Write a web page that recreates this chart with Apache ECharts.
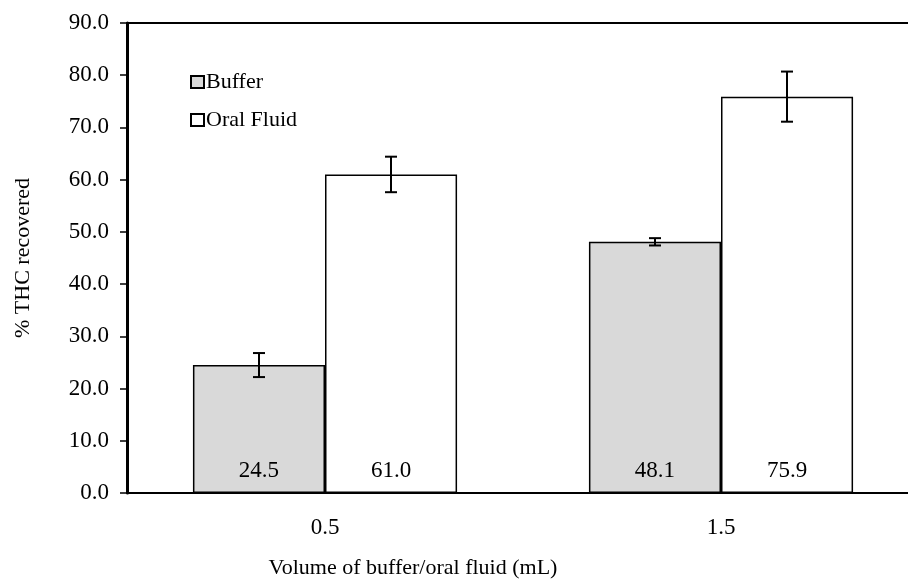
<!DOCTYPE html>
<html>
<head>
<meta charset="utf-8">
<script src="https://cdn.jsdelivr.net/npm/echarts@6/dist/echarts.min.js"></script>
<style>
html, body { margin: 0; padding: 0; background: #fff; }
#chart { width: 908px; height: 580px; }
</style>
</head>
<body>
<div id="chart"></div>
<script>
var categories = ['0.5', '1.5'];
var bufferValues = [24.5, 48.1];
var oralValues = [61.0, 75.9];
var bufferErr = [2.3, 0.7];
var oralErr = [3.4, 4.8];
var font = 'Liberation Serif';

var chart = echarts.init(document.getElementById('chart'));

// error bars, shifted to the left or right bar of each category
function errorSeries(name, values, errs, side) {
    return {
        name: name + ' err',
        type: 'custom',
        silent: true,
        z: 10,
        data: values.map(function (v, i) { return [i, v, errs[i]]; }),
        renderItem: function (params, api) {
            var i = api.value(0), v = api.value(1), e = api.value(2);
            var band = api.size([1, 0])[0];
            var hi = api.coord([i, v + e]);
            var lo = api.coord([i, v - e]);
            var x = hi[0] + side * band / 6;
            var cap = 6;
            var style = { stroke: '#000', lineWidth: 2 };
            return {
                type: 'group',
                children: [
                    { type: 'line', shape: { x1: x, y1: hi[1], x2: x, y2: lo[1] }, style: style },
                    { type: 'line', shape: { x1: x - cap, y1: hi[1], x2: x + cap, y2: hi[1] }, style: style },
                    { type: 'line', shape: { x1: x - cap, y1: lo[1], x2: x + cap, y2: lo[1] }, style: style }
                ]
            };
        }
    };
}

var barLabel = {
    show: true,
    position: 'insideBottom',
    distance: 11,
    color: '#000',
    fontFamily: font,
    fontSize: 23,
    formatter: function (p) { return p.value.toFixed(1); }
};

var option = {
    animation: false,
    backgroundColor: '#fff',
    textStyle: { fontFamily: font },
    grid: { left: 127, width: 792, top: 23, height: 470, containLabel: false, outerBoundsMode: 'none' },
    legend: {
        orient: 'vertical',
        left: 185,
        top: 66,
        icon: 'rect',
        itemWidth: 13,
        itemHeight: 12,
        itemGap: 16,
        data: ['Buffer', 'Oral Fluid'],
        textStyle: { fontFamily: font, fontSize: 22, color: '#000', padding: [0, 0, 0, -3] }
    },
    xAxis: [{
        type: 'category',
        data: categories,
        name: 'Volume of buffer/oral fluid (mL)',
        nameLocation: 'middle',
        nameGap: 64,
        nameTextStyle: { fontFamily: font, fontSize: 22, color: '#000', padding: [0, 220, 0, 0] },
        axisLine: { lineStyle: { color: '#000', width: 2 } },
        axisTick: { length: 7, lineStyle: { color: '#000', width: 1.5 } },
        axisLabel: { color: '#000', fontFamily: font, fontSize: 23, margin: 23 }
    }, {
        type: 'category',
        data: categories,
        position: 'top',
        axisLine: { lineStyle: { color: '#000', width: 2 } },
        axisTick: { show: false },
        axisLabel: { show: false }
    }],
    yAxis: {
        type: 'value',
        min: 0,
        max: 90,
        interval: 10,
        name: '% THC recovered',
        nameLocation: 'middle',
        nameGap: 93,
        nameTextStyle: { fontFamily: font, fontSize: 22, color: '#000' },
        axisLine: { show: true, lineStyle: { color: '#000', width: 3 } },
        axisTick: { show: true, length: 7, lineStyle: { color: '#000', width: 1.5 } },
        splitLine: { show: false },
        axisLabel: {
            color: '#000', fontFamily: font, fontSize: 23, margin: 18,
            formatter: function (v) { return v.toFixed(1); }
        }
    },
    series: [{
        name: 'Buffer',
        type: 'bar',
        data: bufferValues,
        barGap: '0%',
        barCategoryGap: '33.3%',
        itemStyle: { color: '#d9d9d9', borderColor: '#000', borderWidth: 1.5 },
        label: barLabel
    }, {
        name: 'Oral Fluid',
        type: 'bar',
        data: oralValues,
        itemStyle: { color: '#fff', borderColor: '#000', borderWidth: 1.5 },
        label: barLabel
    },
    errorSeries('Buffer', bufferValues, bufferErr, -1),
    errorSeries('Oral Fluid', oralValues, oralErr, 1)]
};

chart.setOption(option);
</script>
</body>
</html>
